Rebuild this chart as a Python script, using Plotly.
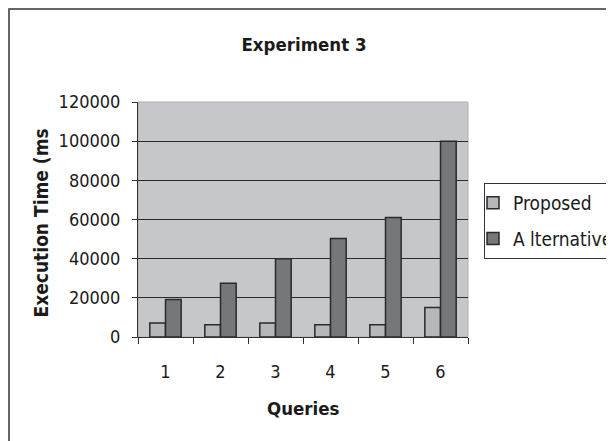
import plotly.graph_objects as go

queries = ["1", "2", "3", "4", "5", "6"]
proposed = [7200, 6300, 7200, 6300, 6300, 15000]
alternative = [19100, 27400, 40000, 50300, 61000, 100000]
y_ticks = [0, 20000, 40000, 60000, 80000, 100000, 120000]
y_tick_text = ["0", "20000", "40000", "60000", "80000", "100000", "120000"]

FONT = "Tahoma, 'DejaVu Sans Condensed', 'DejaVu Sans', sans-serif"
OFF = 8  # page body margin
W, H = 614 - OFF, 441 - OFF
# reference-pixel plot area
PL, PR, PT, PB = 138, 468, 102, 337
L, R, T, B = PL - OFF, W - (PR - OFF), PT - OFF, H - (PB - OFF)
PW, PH = PR - PL, PB - PT

def px_x(px):
    return (px - PL) / PW

def px_y(py):
    return (PB - py) / PH

fig = go.Figure()
fig.add_trace(go.Bar(x=queries, y=proposed, name="Proposed", legendgroup="a",
                     marker=dict(color="#b5b7bb", line=dict(color="#2a2a2a", width=1.5))))
fig.add_trace(go.Bar(x=queries, y=alternative, name="A lternative", legendgroup="b",
                     marker=dict(color="#76777b", line=dict(color="#2a2a2a", width=1.5))))

fig.update_layout(
    width=W, height=H,
    margin=dict(l=L, r=R, t=T, b=B, autoexpand=False),
    paper_bgcolor="white", plot_bgcolor="#c6c7cb",
    font=dict(family=FONT, size=18, color="#1a1a1a"),
    barmode="group", bargap=0.43, bargroupgap=0,
    showlegend=True,
    legend=dict(x=px_x(484), y=px_y(183), xanchor="left", yanchor="top",
                bordercolor="#333333", borderwidth=1, bgcolor="white",
                font=dict(family=FONT, size=19, color="#1a1a1a"),
                tracegroupgap=8, indentation=-12),
    title=dict(text="<b>Experiment 3</b>", xref="container", x=(304 - OFF) / W,
               xanchor="center", yref="container",
               y=1 - (45 - OFF) / H, yanchor="middle",
               font=dict(family=FONT, size=18.5, color="#1a1a1a")),
)
fig.update_xaxes(type="category", showgrid=False, showline=True, linecolor="#333333", linewidth=1,
                 ticks="outside", tickson="boundaries", ticklen=6, tickcolor="#333333",
                 ticklabelstandoff=18, tickfont=dict(size=18))
fig.update_yaxes(range=[0, 120000], tickvals=y_ticks, ticktext=y_tick_text,
                 showgrid=True, gridcolor="#2a2a2a",
                 gridwidth=1, showline=True, linecolor="#333333", linewidth=1,
                 ticks="outside", ticklen=5, tickcolor="#333333", zeroline=False,
                 ticklabelstandoff=8, tickfont=dict(size=18))

# outer chart border (top/left visible; left edge kept inside the figure)
fig.add_shape(type="rect", xref="paper", yref="paper",
              x0=px_x(OFF + 1), x1=px_x(640), y0=px_y(470), y1=px_y(9),
              line=dict(color="#333333", width=1.5), fillcolor="rgba(0,0,0,0)", layer="below")
# light plot area border top/right
fig.add_shape(type="rect", xref="paper", yref="paper", x0=0, x1=1, y0=0, y1=1,
              line=dict(color="#b0b0b0", width=1), layer="below")

fig.add_annotation(text="<b>Execution Time (ms</b>", xref="paper", yref="paper",
                   x=px_x(40), y=px_y(319), xanchor="center", yanchor="bottom",
                   textangle=-90, showarrow=False,
                   font=dict(family=FONT, size=19, color="#1a1a1a"))
fig.add_annotation(text="<b>Queries</b>", xref="paper", yref="paper",
                   x=px_x(303), y=px_y(408), xanchor="center", yanchor="middle",
                   showarrow=False, font=dict(family=FONT, size=18.5, color="#1a1a1a"))

fig.write_html("out.html")
